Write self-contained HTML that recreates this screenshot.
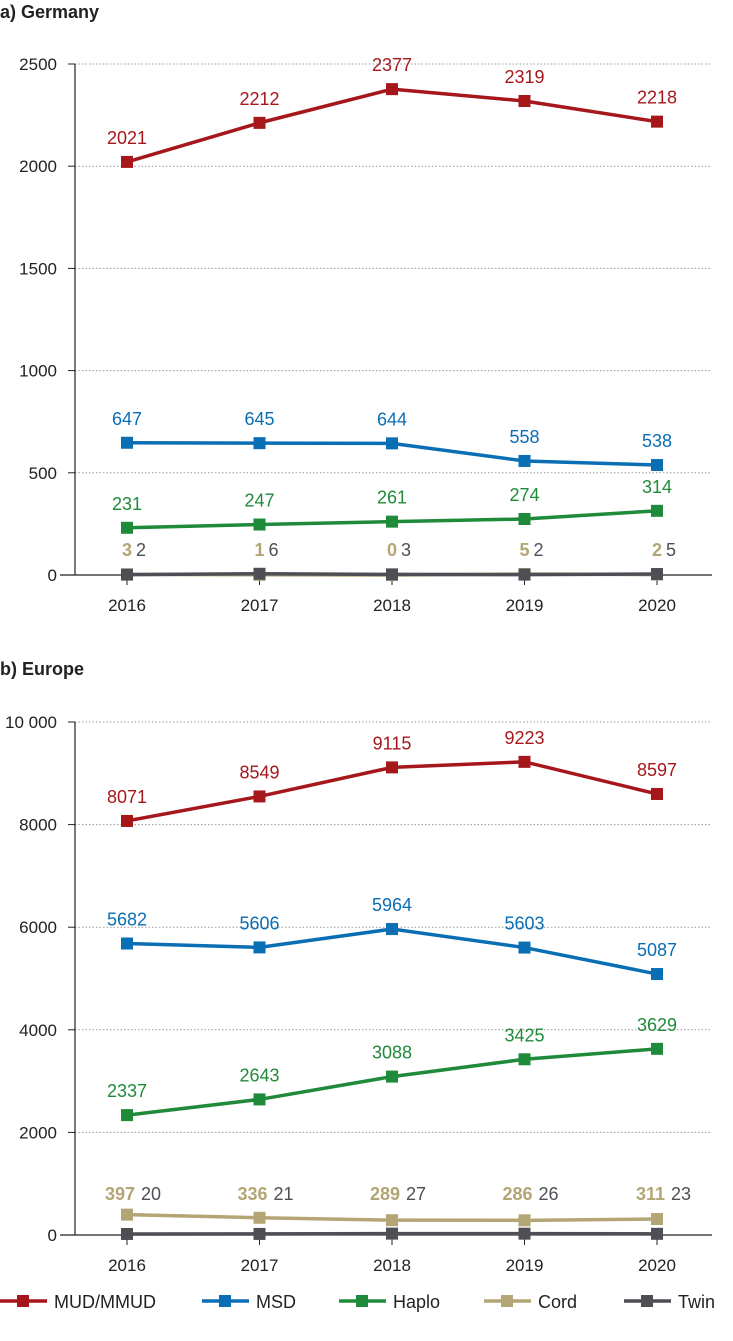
<!DOCTYPE html>
<html><head><meta charset="utf-8"><style>
body{margin:0;background:#fff;width:733px;height:1341px;overflow:hidden}
svg{display:block;font-family:"Liberation Sans",sans-serif}
</style></head><body>
<svg width="733" height="1341" id="s"></svg>
<script>
const years=["2016","2017","2018","2019","2020"];
const gerMud=[2021,2212,2377,2319,2218];
const gerMsd=[647,645,644,558,538];
const gerHaplo=[231,247,261,274,314];
const gerCord=[3,1,0,5,2];
const gerTwin=[2,6,3,2,5];
const eurMud=[8071,8549,9115,9223,8597];
const eurMsd=[5682,5606,5964,5603,5087];
const eurHaplo=[2337,2643,3088,3425,3629];
const eurCord=[397,336,289,286,311];
const eurTwin=[20,21,27,26,23];
const gerTicks=[0,500,1000,1500,2000,2500];
const eurTicks=[0,2000,4000,6000,8000,10000];
const eurTickLabels=["0","2000","4000","6000","8000","10 000"];
const seriesNames=["MUD/MMUD","MSD","Haplo","Cord","Twin"];
const colors=["#a6171c","#0a6eb4","#1f8a3a","#b3a574","#4d4f55"];
const NS="http://www.w3.org/2000/svg";
const svg=document.getElementById('s');
function mk(t,a,p){const e=document.createElementNS(NS,t);for(const k in a)e.setAttribute(k,a[k]);(p||svg).appendChild(e);return e;}
function txt(x,y,s,a,p){const e=mk('text',Object.assign({x:x,y:y},a),p);e.textContent=s;return e;}
function chart(name,title,titleY,y0,yTop,max,ticks,tickLabels,series,cordIdx){
  const g=mk('g',{});
  
  
  const t=txt(0,titleY,title,{'font-size':18,'font-weight':'bold',fill:'#222'},g);
  
  
  const sy=v=>y0-(v/max)*(y0-yTop);
  const sx=i=>127+i*132.5;
  ticks.forEach((v,i)=>{
    const y=sy(v);
    if(v>0){const l=mk('line',{x1:75,x2:712,y1:y,y2:y,stroke:'#999','stroke-dasharray':'1.5,2','stroke-width':1},g);
      }
    const tl=txt(57,y+6,tickLabels[i],{'font-size':17,fill:'#222','text-anchor':'end'},g);
    
    
    mk('line',{x1:68,x2:75,y1:y,y2:y,stroke:'#222'},g);
  });
  mk('line',{x1:75,x2:75,y1:yTop,y2:y0,stroke:'#222','stroke-width':1.2},g);
  mk('line',{x1:60,x2:712,y1:y0,y2:y0,stroke:'#222','stroke-width':1.2},g);
  years.forEach((yr,i)=>{
    mk('line',{x1:sx(i),x2:sx(i),y1:y0,y2:y0+10,stroke:'#222'},g);
    const xl=txt(sx(i),y0+36,yr,{'font-size':17,fill:'#222','text-anchor':'middle'},g);
    
    
  });
  series.forEach((vals,si)=>{
    const c=colors[si];
    const pts=vals.map((v,i)=>sx(i)+','+sy(v)).join(' ');
    const pl=mk('polyline',{points:pts,fill:'none',stroke:c,'stroke-width':3.5},g);
    
    
    vals.forEach((v,i)=>{
      const r=mk('rect',{x:sx(i)-6,y:sy(v)-6,width:12,height:12,fill:c},g);
      
      
      let lx=sx(i),ly=sy(v)-18,anchor='middle',bold=false;
      if(si===3){ly=cordIdx.y;anchor='end';lx=sx(i)+cordIdx.cx;bold=true;}
      if(si===4){ly=cordIdx.y;anchor='start';lx=sx(i)+cordIdx.tx;}
      const vl=txt(lx,ly,String(v),{'font-size':18,fill:c,'text-anchor':anchor,'font-weight':bold?'bold':'normal'},g);
      
      
    });
  });
}
chart('germany-chart','a) Germany',18,575,64,2500,gerTicks,gerTicks.map(String),[gerMud,gerMsd,gerHaplo,gerCord,gerTwin],{y:556,cx:5,tx:9});
chart('europe-chart','b) Europe',675,1235,722,10000,eurTicks,eurTickLabels,[eurMud,eurMsd,eurHaplo,eurCord,eurTwin],{y:1200,cx:8,tx:14});
const lg=mk('g',{});


const lx=[0,202,339,484,624];
seriesNames.forEach((n,i)=>{
  const e=mk('g',{},lg);
  
  
  mk('line',{x1:lx[i],x2:lx[i]+47,y1:1301,y2:1301,stroke:colors[i],'stroke-width':3.5},e);
  mk('rect',{x:lx[i]+17,y:1295,width:12,height:12,fill:colors[i]},e);
  txt(lx[i]+54,1308,n,{'font-size':18,fill:'#222'},e);
});
</script>
</body></html>
